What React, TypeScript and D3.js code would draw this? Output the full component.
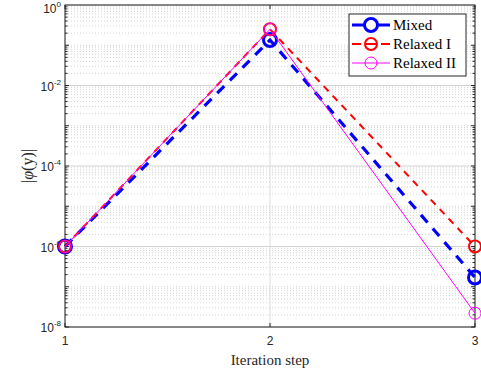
import React from 'react';
import * as d3 from 'd3';

const steps = [1, 2, 3];
const mixed = [1e-6, 0.135, 1.7e-7];
const relaxedI = [1e-6, 0.25, 1e-6];
const relaxedII = [1e-6, 0.25, 2.2e-8];
const xTicks = [1, 2, 3];
const yTicks = [1e-8, 1e-6, 1e-4, 1e-2, 1];

const series = [
  { name: 'Mixed', values: mixed, color: '#0000ff', width: 3.2, dash: '10,8', legDash: '', r: 6.5, mw: 3 },
  { name: 'Relaxed I', values: relaxedI, color: '#ff0000', width: 2, dash: '7,6', legDash: '9,5,10,5,9', r: 6, mw: 2 },
  { name: 'Relaxed II', values: relaxedII, color: '#ff00ff', width: 1, dash: '', legDash: '', r: 6, mw: 1 },
];

export default function App() {
  const W = 481, H = 372;
  const m = { left: 65, right: 6, top: 5, bottom: 45 };
  const x = d3.scaleLinear().domain([1, 3]).range([m.left, W - m.right]);
  const y = d3.scaleLog().domain([1e-8, 1]).range([H - m.bottom, m.top]);
  const line = d3.line<number>().x((_, i) => x(steps[i])).y(d => y(d));

  const minor: number[] = [];
  for (let e = -8; e < 0; e++) for (let k = 1; k <= 9; k++) minor.push(k * Math.pow(10, e));
  const decades = d3.range(-8, 1).map(e => Math.pow(10, e));

  const x0 = m.left, x1 = W - m.right, y0 = m.top, y1 = H - m.bottom;
  const tickFont = "'Liberation Sans', Arial, sans-serif";
  const serif = "'Liberation Serif', 'Times New Roman', serif";

  return (
    <svg width={W} height={H} style={{ position: 'absolute', left: 0, top: 0, background: '#fff' }}>
      {/* minor grid */}
      {minor.filter(v => !decades.includes(v)).map((v, i) => (
        <line key={'mg' + i} x1={x0} x2={x1} y1={y(v)} y2={y(v)} stroke="#c8c8c8" strokeWidth={0.8} strokeDasharray="1,2" />
      ))}
      {decades.map((v, i) => (
        <line key={'dg' + i} x1={x0} x2={x1} y1={y(v)} y2={y(v)} stroke="#c8c8c8" strokeWidth={0.8} strokeDasharray={yTicks.includes(v) ? '' : '1,2'} />
      ))}
      {xTicks.map(t => (
        <line key={'xg' + t} x1={x(t)} x2={x(t)} y1={y0} y2={y1} stroke="#dcdcdc" strokeWidth={1} />
      ))}
      {/* box */}
      <rect x={x0} y={y0} width={x1 - x0} height={y1 - y0} fill="none" stroke="#262626" strokeWidth={1} />
      {/* ticks */}
      {minor.map((v, i) => (
        <g key={'mt' + i}>
          <line x1={x0} x2={x0 + (decades.includes(v) ? 4 : 2.5)} y1={y(v)} y2={y(v)} stroke="#262626" />
          <line x1={x1} x2={x1 - (decades.includes(v) ? 4 : 2.5)} y1={y(v)} y2={y(v)} stroke="#262626" />
        </g>
      ))}
      {xTicks.map(t => (
        <g key={'xt' + t}>
          <line x1={x(t)} x2={x(t)} y1={y1} y2={y1 - 4} stroke="#262626" />
          <line x1={x(t)} x2={x(t)} y1={y0} y2={y0 + 4} stroke="#262626" />
          <text x={x(t)} y={y1 + 18} textAnchor="middle" fontFamily={tickFont} fontSize={12} fill="#262626">{t}</text>
        </g>
      ))}
      {yTicks.map(t => (
        <text key={'yt' + t} x={x0 - 4} y={Math.max(y(t) + 5, 13)} textAnchor="end" fontFamily={tickFont} fontSize={12} fill="#262626">
          10<tspan fontSize={8} dy={-6}>{Math.round(Math.log10(t))}</tspan>
        </text>
      ))}
      <text x={(x0 + x1) / 2} y={H - 7} textAnchor="middle" fontFamily={serif} fontSize={15} fill="#262626">Iteration step</text>
      <text transform={`translate(${x0 - 32},${(y0 + y1) / 2}) rotate(-90)`} textAnchor="middle" fontFamily={serif} fontSize={16} fill="#262626">
        |<tspan fontStyle="italic">φ</tspan>(y)|
      </text>
      {/* series */}
      {series.map(s => (
        <g key={s.name}>
          <path d={line(s.values) || ''} fill="none" stroke={s.color} strokeWidth={s.width} strokeDasharray={s.dash} />
          {s.values.map((v, i) => (
            <circle key={i} cx={x(steps[i])} cy={y(v)} r={s.r} fill="none" stroke={s.color} strokeWidth={s.mw} />
          ))}
        </g>
      ))}
      {/* legend */}
      <g transform="translate(349,14)">
        <rect width={117} height={62} fill="#fff" stroke="#262626" strokeWidth={1} />
        {series.map((s, i) => (
          <g key={s.name} transform={`translate(0,${11 + i * 19})`}>
            <line x1={3} x2={41} y1={0} y2={0} stroke={s.color} strokeWidth={s.width} strokeDasharray={s.legDash} />
            <circle cx={22} cy={0} r={s.r} fill={s.name === 'Mixed' ? '#fff' : 'none'} stroke={s.color} strokeWidth={s.mw} />
            <text x={44} y={5} fontFamily={serif} fontSize={15} fill="#000">{s.name}</text>
          </g>
        ))}
      </g>
    </svg>
  );
}
